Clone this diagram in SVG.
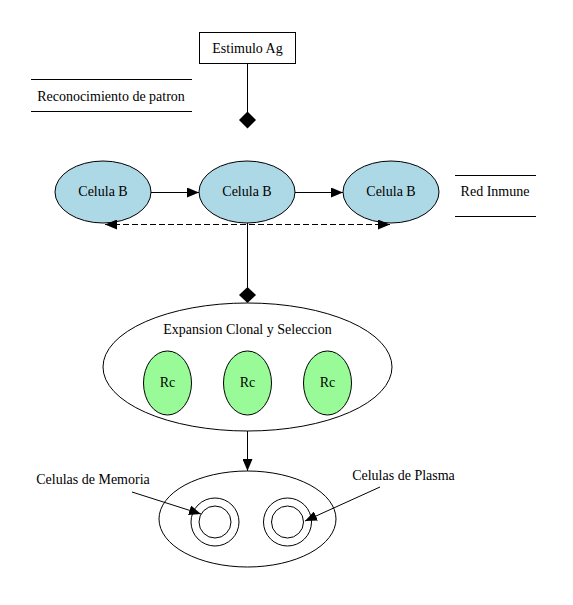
<svg xmlns="http://www.w3.org/2000/svg" width="573" height="605" viewBox="0 0 573 605">
<style>
text{font-family:"Liberation Serif","Times New Roman",serif;font-size:14px;fill:#000;text-anchor:middle;dominant-baseline:central}
.ln{stroke:#000;stroke-width:1;fill:none}
.bc{fill:#add8e6;stroke:#000;stroke-width:1}
.rc{fill:#98fb98;stroke:#000;stroke-width:1}
.wh{fill:#fff;stroke:#000;stroke-width:1}
</style>
<defs>
<marker id="ah" viewBox="0 0 12 10" refX="12" refY="5" markerWidth="12" markerHeight="10" markerUnits="userSpaceOnUse" orient="auto-start-reverse"><path d="M0,0 L12,5 L0,10 z" fill="#000"/></marker>
</defs>
<rect width="573" height="605" fill="#fff"/>
<g font-family="Liberation Serif, Times New Roman, serif">
<g id="estimulo">
<rect class="wh" x="199.5" y="32.5" width="96" height="31"/>
<text x="247.5" y="48">Estimulo Ag</text>
</g>
<g id="reconocimiento">
<line class="ln" x1="31" y1="79.5" x2="192" y2="79.5"/>
<line class="ln" x1="31" y1="111.5" x2="192" y2="111.5"/>
<text x="111" y="96">Reconocimiento de  patron</text>
</g>
<g id="celula1">
<ellipse class="bc" cx="103" cy="192" rx="48" ry="31"/>
<text x="103" y="191">Celula B</text>
</g>
<g id="celula2">
<ellipse class="bc" cx="247" cy="192" rx="48" ry="31"/>
<text x="247" y="191">Celula B</text>
</g>
<g id="celula3">
<ellipse class="bc" cx="391" cy="192" rx="48" ry="31"/>
<text x="391" y="191">Celula B</text>
</g>
<g id="redinmune">
<line class="ln" x1="455" y1="175.5" x2="536" y2="175.5"/>
<line class="ln" x1="455" y1="216.5" x2="536" y2="216.5"/>
<text x="495" y="191">Red Inmune</text>
</g>
<g id="expansion">
<ellipse class="wh" cx="247.5" cy="367" rx="144.5" ry="64"/>
<text x="247.5" y="329">Expansion Clonal y Seleccion</text>
</g>
<g id="rc1">
<ellipse class="rc" cx="167.5" cy="383" rx="24" ry="32"/>
<text x="167.5" y="382">Rc</text>
</g>
<g id="rc2">
<ellipse class="rc" cx="247.5" cy="383" rx="24" ry="32"/>
<text x="247.5" y="382">Rc</text>
</g>
<g id="rc3">
<ellipse class="rc" cx="327.5" cy="383" rx="24" ry="32"/>
<text x="327.5" y="382">Rc</text>
</g>
<g id="celulas">
<ellipse class="wh" cx="247.5" cy="519" rx="88.5" ry="48"/>
<circle class="ln" cx="215" cy="522" r="24"/>
<circle class="ln" cx="215" cy="522" r="16"/>
<circle class="ln" cx="287.5" cy="522" r="24"/>
<circle class="ln" cx="287.5" cy="522" r="16"/>
</g>
<g id="memoria">
<text x="93" y="479">Celulas de Memoria</text>
</g>
<g id="plasma">
<text x="403.5" y="475">Celulas de Plasma</text>
</g>
</g>
<g id="connectors">
<line class="ln" x1="247.5" y1="63" x2="247.5" y2="112"/>
<path d="M247.5,111.5 L256,120 L247.5,128.5 L239,120 z" fill="#000"/>
<line class="ln" x1="151" y1="192.5" x2="199" y2="192.5" marker-end="url(#ah)"/>
<line class="ln" x1="295" y1="192.5" x2="343" y2="192.5" marker-end="url(#ah)"/>
<line class="ln" x1="105" y1="224.5" x2="390" y2="224.5" stroke-dasharray="6,3" marker-start="url(#ah)" marker-end="url(#ah)"/>
<line class="ln" x1="247.5" y1="223" x2="247.5" y2="288"/>
<path d="M247.5,287 L256,295 L247.5,303 L239,295 z" fill="#000"/>
<line class="ln" x1="247.5" y1="431" x2="247.5" y2="471" marker-end="url(#ah)"/>
<line class="ln" x1="132" y1="492" x2="201" y2="514" marker-end="url(#ah)"/>
<line class="ln" x1="380" y1="487" x2="305" y2="521" marker-end="url(#ah)"/>
</g>
</svg>
